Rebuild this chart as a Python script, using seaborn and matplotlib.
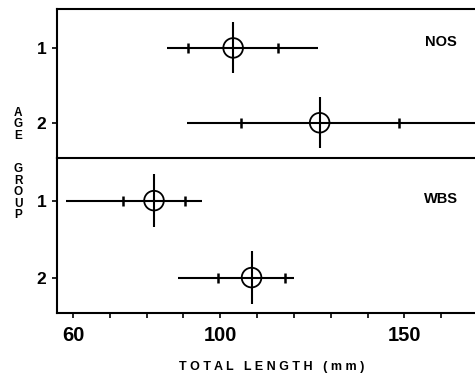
import numpy as np
import pandas as pd
import matplotlib
matplotlib.use('Agg')
import matplotlib.pyplot as plt
import seaborn as sns

# ─── DATA ────────────────────────────────────────────────────────────────────
SITES      = ['NOS', 'WBS']
AGE_GROUPS = [1, 2]
MEANS      = {'NOS': [103.5, 127.0], 'WBS': [82.0, 108.5]}
SD         = {'NOS': [12.2, 21.5],   'WBS': [8.5, 9.0]}
RANGE_LO   = {'NOS': [85.5, 91.0],   'WBS': [58.0, 88.5]}
RANGE_HI   = {'NOS': [126.5, 170.0], 'WBS': [95.0, 120.0]}
VBAR       = {'NOS': [0.34, 0.34],   'WBS': [0.34, 0.34]}

X_TICKS  = list(range(60, 170, 10))
X_LABELS = {60: '60', 100: '100', 150: '150'}

rows = []
for site in SITES:
    for i, g in enumerate(AGE_GROUPS):
        rows.append({'site': site, 'age': g, 'mean': MEANS[site][i], 'sd': SD[site][i],
                     'lo': RANGE_LO[site][i], 'hi': RANGE_HI[site][i], 'vbar': VBAR[site][i]})
df = pd.DataFrame(rows)

# ─── STYLE ───────────────────────────────────────────────────────────────────
sns.set_theme(style='ticks')
plt.rcParams.update({
    'font.family': ['Liberation Sans', 'DejaVu Sans'],
    'font.weight': 'bold',
    'text.color': 'black',
    'axes.labelcolor': 'black',
    'axes.linewidth': 1.5,
    'axes.edgecolor': 'black',
    'xtick.color': 'black',
    'ytick.color': 'black',
})

fig = plt.figure(figsize=(4.75, 3.76), dpi=100)
ax_bot = fig.add_axes([0.12, 0.1676, 0.88, 0.4124])
ax_top = fig.add_axes([0.12, 0.580, 0.88, 0.396])
ax_top.patch.set_alpha(0)
ax_bot.patch.set_alpha(0)

panels = [(ax_top, 'NOS', (2.47, 0.48), 0.779), (ax_bot, 'WBS', (2.46, 0.445), 0.735)]

for ax, site, ylim, label_y in panels:
    sub = df[df['site'] == site]

    # outer range line + vertical bar through the mean
    ax.errorbar(sub['mean'], sub['age'],
                xerr=[sub['mean'] - sub['lo'], sub['hi'] - sub['mean']],
                yerr=sub['vbar'], fmt='none', ecolor='black', elinewidth=1.5,
                capsize=0, zorder=2)

    # inner +/- ticks
    inner = pd.concat([
        pd.DataFrame({'x': sub['mean'] - sub['sd'], 'y': sub['age']}),
        pd.DataFrame({'x': sub['mean'] + sub['sd'], 'y': sub['age']}),
    ])
    sns.scatterplot(data=inner, x='x', y='y', marker='|', s=55, color='black',
                    linewidth=1.8, ax=ax, zorder=3, legend=False)

    # open circle at the mean
    sns.scatterplot(data=sub, x='mean', y='age', marker='o', s=200,
                    facecolor='none', edgecolor='black', linewidth=1.3,
                    ax=ax, zorder=4, legend=False)

    ax.set_xlim(55.65, 169.2)
    ax.set_ylim(*ylim)
    ax.set_yticks(AGE_GROUPS)
    ax.set_yticklabels([str(g) for g in AGE_GROUPS], fontsize=12.5, fontweight='bold')
    ax.tick_params(axis='y', length=3.5, width=1.2, pad=4)
    ax.set_xlabel('')
    ax.set_ylabel('')
    ax.spines['right'].set_visible(False)
    ax.text(0.918, label_y, site, transform=ax.transAxes, ha='center', va='center',
            fontsize=10.5, fontweight='bold')

ax_top.set_xticks([])
ax_bot.spines['top'].set_visible(False)
ax_bot.set_xticks(X_TICKS)
ax_bot.set_xticklabels([X_LABELS.get(t, '') for t in X_TICKS], fontsize=14.5,
                       fontweight='bold')
ax_bot.tick_params(axis='x', length=3.5, width=1.2, pad=6)

ax_bot.set_xlabel('T O T A L   L E N G T H   ( m m )', fontsize=9,
                  fontweight='bold', va='center')
ax_bot.xaxis.set_label_coords(0.514, -0.348)

# stacked y label
fig.text(0.038, 0.670, 'A\nG\nE', ha='center', va='center', fontsize=8.5,
         fontweight='bold', linespacing=0.95)
fig.text(0.038, 0.489, 'G\nR\nO\nU\nP', ha='center', va='center', fontsize=8.5,
         fontweight='bold', linespacing=0.95)

fig.savefig('out.png', dpi=100)
